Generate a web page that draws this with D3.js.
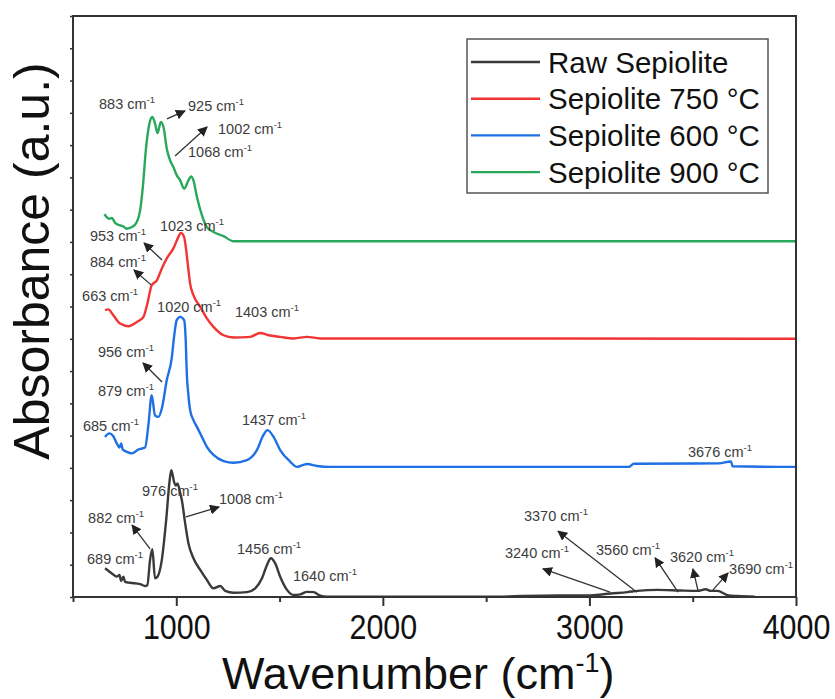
<!DOCTYPE html>
<html><head><meta charset="utf-8">
<script src="https://cdn.jsdelivr.net/npm/d3@7"></script>
<style>body{margin:0;background:#fff}svg{display:block}</style>
</head><body>
<svg id="c" width="835" height="699"></svg>
<script>
// ---- data ----
const rawWn  = [655,688,712,725,733,744,752,776,825,849,860,873,884,897,909,930,951,968,976,990,998,1006,1018,1027,1043,1059,1083,1116,1148,1180,1213,1237,1277,1342,1382,1415,1439,1458,1479,1503,1536,1568,1600,1633,1665,1697,1730,2000,2500,2845,3006,3103,3184,3232,3329,3442,3523,3563,3588,3620,3668,3717,3800];
const rawAbs = [0.89,0.73,0.63,0.68,0.50,0.63,0.47,0.44,0.40,0.34,0.37,1.15,1.48,0.58,0.63,1.15,2.38,3.62,3.93,3.55,3.45,3.52,3.25,3.0,2.28,1.66,1.20,0.84,0.53,0.27,0.34,0.19,0.13,0.15,0.27,0.58,0.99,1.20,1.04,0.63,0.22,0.06,0.08,0.16,0.15,0.04,0.01,0.01,0.01,0.05,0.05,0.11,0.15,0.19,0.22,0.20,0.19,0.24,0.19,0.19,0.06,0.03,0.01];

const s750Wn  = [655,671,695,728,768,809,841,860,881,906,930,954,986,1010,1022,1038,1048,1059,1067,1083,1116,1148,1180,1229,1277,1358,1406,1447,1503,1568,1633,1697,1786,4000];
const s750Abs = [8.89,8.91,8.73,8.47,8.39,8.52,8.68,9.09,9.66,9.81,10.18,10.49,10.80,11.15,11.28,11.15,10.74,10.12,9.71,9.35,8.99,8.63,8.37,8.11,8.04,8.06,8.18,8.11,8.06,8.01,8.06,8.01,8.01,8.0];

const s600Wn  = [655,676,695,712,725,733,741,760,785,817,833,849,865,881,897,913,930,954,978,990,1002,1019,1038,1046,1051,1058,1067,1083,1100,1124,1148,1180,1229,1277,1342,1390,1422,1442,1471,1503,1552,1584,1633,1681,1746,2500,3190,3215,3627,3685,3693,4000];
const s600Abs = [4.96,5.07,4.98,4.76,4.63,4.76,4.57,4.50,4.45,4.57,4.60,4.63,5.33,6.25,5.63,5.58,5.84,6.72,7.40,8.10,8.58,8.68,8.58,7.90,6.90,6.30,5.79,5.48,5.27,4.96,4.65,4.40,4.21,4.16,4.24,4.55,5.02,5.17,4.96,4.55,4.19,4.03,4.12,4.06,4.03,4.03,4.03,4.13,4.14,4.20,4.05,4.03];

const s900Wn  = [652,663,676,688,704,725,741,760,785,809,825,838,854,870,884,897,909,925,938,954,970,986,1002,1019,1038,1059,1072,1083,1100,1124,1148,1180,1229,1277,1406,4000];
const s900Abs = [11.86,11.77,11.72,11.74,11.59,11.52,11.49,11.41,11.46,11.62,11.98,12.70,13.94,14.67,14.87,14.67,14.37,14.72,14.56,13.89,13.53,13.32,13.07,12.91,12.65,12.91,13.03,12.91,12.39,11.83,11.46,11.31,11.18,11.02,11.02,11.02];

const seriesNames  = ["Raw Sepiolite","Sepiolite 750 °C","Sepiolite 600 °C","Sepiolite 900 °C"];
const seriesColors = ["#3a3a3a","#f23434","#1f6fe5","#27a85a"];
const xTicks = [1000,2000,3000,4000];
const xMinorTicks = [500,1500,2500,3500];

// annotation labels: [text number, wavenumber, absorbance] (label anchor in data units)
const labels = [
  ["883",626,15.12],["925",1057,15.06],["1002",1202,14.34],["1068",1057,13.63],
  ["1023",921,11.34],["953",582,11.03],["884",582,10.22],["663",544,9.17],["1403",1284,8.67],
  ["1020",907,8.83],["956",621,7.44],["879",621,6.23],["685",548,5.14],["1437",1318,5.33],["3676",3477,4.34],
  ["976",834,3.13],["1008",1207,2.88],["882",573,2.29],["689",568,1.02],["1456",1294,1.33],["1640",1565,0.50],
  ["3370",2683,2.35],["3240",2591,1.21],["3560",3032,1.30],["3620",3390,1.08],["3690",3676,0.71]
];
// arrows: [fromWn, fromAbs, toWn, toAbs]
const arrows = [
  [955,14.81,1042,15.06],[994,13.66,1149,14.56],
  [931,10.44,844,10.97],[878,9.67,795,10.13],
  [931,6.66,839,7.25],
  [1047,2.48,1207,2.79],[873,1.49,786,2.23],
  [3230,0.15,2848,2.04],[3100,0.15,2775,0.87],[3429,0.15,3318,1.21],[3526,0.19,3501,0.87],[3598,0.22,3671,0.74]
];

// ---- chart ----
const svg = d3.select("#c");
const L=73, R=796, T=16, B=597;
const x = d3.scaleLinear().domain([500,4000]).range([L,R]);
const y = d3.scaleLinear().domain([0,18]).range([B,T]);

const defs = svg.append("defs");
defs.append("marker").attr("id","ah").attr("viewBox","0 0 10 10").attr("refX",9).attr("refY",5)
  .attr("markerWidth",10).attr("markerHeight",10).attr("markerUnits","userSpaceOnUse").attr("orient","auto")
  .append("path").attr("d","M0,0L10,5L0,10z").attr("fill","#222");

const series = [[rawWn,rawAbs],[s750Wn,s750Abs],[s600Wn,s600Abs],[s900Wn,s900Abs]];
const line = d3.line().x(d=>x(d[0])).y(d=>y(d[1])).curve(d3.curveMonotoneX);
const drawOrder=[0,2,1,3];
drawOrder.forEach(i=>{
  const [w,a]=series[i];
  svg.append("path").datum(w.map((v,k)=>[v,a[k]])).attr("d",line)
    .attr("fill","none").attr("stroke",seriesColors[i]).attr("stroke-width",2.4).attr("stroke-linejoin","round");
});

// frame
svg.append("rect").attr("x",L).attr("y",T).attr("width",R-L).attr("height",B-T)
  .attr("fill","none").attr("stroke","#333").attr("stroke-width",2);

// x axis
const xa = svg.append("g").attr("transform",`translate(0,${B})`)
  .call(d3.axisBottom(x).tickValues(xTicks).tickSize(9).tickFormat(d3.format("d")));
xa.select(".domain").remove();
xa.selectAll(".tick line").attr("stroke","#333").attr("stroke-width",2);
xa.selectAll(".tick text").attr("font-family","Liberation Sans, Arial, sans-serif").attr("font-size",35)
  .attr("fill","#111").attr("y",42).attr("dy",0).attr("transform","scale(0.87,1)");
svg.append("g").attr("transform",`translate(0,${B})`)
  .call(d3.axisBottom(x).tickValues(xMinorTicks).tickSize(5).tickFormat(""))
  .call(g=>{g.select(".domain").remove();g.selectAll(".tick line").attr("stroke","#333").attr("stroke-width",2);});
// y axis ticks (no labels)
svg.append("g").attr("transform",`translate(${L},0)`)
  .call(d3.axisLeft(y).ticks(18).tickSize(3).tickFormat(""))
  .call(g=>{g.select(".domain").remove();g.selectAll(".tick line").attr("stroke","#333").attr("stroke-width",1.5);});

// axis titles
const xt = svg.append("text").attr("x",222).attr("y",689).attr("font-family","Liberation Sans, Arial, sans-serif")
  .attr("font-size",45).attr("fill","#111");
xt.append("tspan").text("Wavenumber (cm");
xt.append("tspan").text("-1").attr("font-size",27).attr("dy",-17);
xt.append("tspan").text(")").attr("dy",17);

svg.append("text").attr("transform",`translate(49,261) rotate(-90)`).attr("text-anchor","middle")
  .attr("font-family","Liberation Sans, Arial, sans-serif").attr("font-size",50).attr("fill","#111")
  .text("Absorbance (a.u.)");

// annotations
const ann = svg.append("g").attr("font-family","Liberation Sans, Arial, sans-serif").attr("font-size",14.5).attr("fill","#3c3c3c");
labels.forEach(([t,w,a])=>{
  const tx = ann.append("text").attr("x",x(w)).attr("y",y(a));
  tx.append("tspan").text(t+" cm");
  tx.append("tspan").text("-1").attr("font-size",9.5).attr("dy",-6);
});
arrows.forEach(([w1,a1,w2,a2])=>{
  svg.append("line").attr("x1",x(w1)).attr("y1",y(a1)).attr("x2",x(w2)).attr("y2",y(a2))
    .attr("stroke","#333").attr("stroke-width",1.3).attr("marker-end","url(#ah)");
});

// legend
const lg = svg.append("g");
lg.append("rect").attr("x",467).attr("y",39).attr("width",301).attr("height",154)
  .attr("fill","#fff").attr("stroke","#555").attr("stroke-width",1.5);
seriesNames.forEach((n,i)=>{
  const cy = 62 + i*36.7;
  lg.append("line").attr("x1",471).attr("x2",540).attr("y1",cy).attr("y2",cy)
    .attr("stroke",seriesColors[i]).attr("stroke-width",2.4);
  lg.append("text").attr("x",548).attr("y",cy+10.5).attr("font-family","Liberation Sans, Arial, sans-serif")
    .attr("font-size",29.5).attr("fill","#111").text(n);
});
</script>
</body></html>
